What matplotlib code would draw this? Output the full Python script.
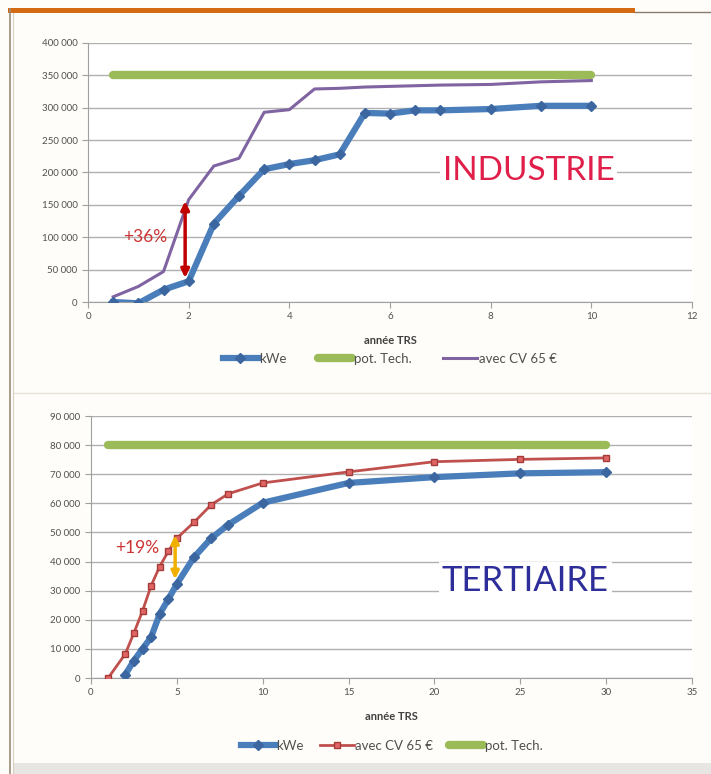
import matplotlib.pyplot as plt
from matplotlib.lines import Line2D
from matplotlib.patches import Rectangle
from matplotlib.ticker import FuncFormatter

# INDUSTRIE
ind_years = [0.5, 1, 1.5, 2, 2.5, 3, 3.5, 4, 4.5, 5, 5.5, 6, 6.5, 7, 8, 9, 10]
ind_kwe = [0, -2000, 19000, 32000, 121000, 164000, 205000, 213000, 219000,
           228000, 292000, 291000, 296000, 296000, 298000, 303000, 303000]
ind_cv = [8000, 24000, 47000, 158000, 210000, 222000, 293000, 297000, 329000,
          330000, 332000, 333000, 334000, 335000, 336000, 340000, 342000]
ind_pot = [350000] * len(ind_years)

# TERTIAIRE
ter_years_cv = [1, 2, 2.5, 3, 3.5, 4, 4.5, 5, 6, 7, 8, 10, 15, 20, 25, 30]
ter_cv = [0, 8300, 15500, 23000, 31700, 38300, 43500, 48000, 53500, 59500,
          63300, 67000, 70800, 74300, 75100, 75600]
ter_years_kwe = [2, 2.5, 3, 3.5, 4, 4.5, 5, 6, 7, 8, 10, 15, 20, 25, 30]
ter_kwe = [1200, 6000, 10000, 14000, 22000, 27000, 32300, 41500, 48000,
           52700, 60200, 67000, 69000, 70300, 70700]
ter_years_pot = [1, 30]
ter_pot = [80000, 80000]

BLUE = "#4a7ebb"
BLUE_DK = "#3b66a0"
GREEN = "#9bbb59"
PURPLE = "#8064a2"
RED = "#c0504d"
TXT = "#505050"

plt.rcParams["font.family"] = ["Lato", "DejaVu Sans"]

fig = plt.figure(figsize=(7.11, 7.74), dpi=100)
fig.patch.set_facecolor("#fffdf9")

W, H = 711, 774


def box(l, t, r, b):
    return [l / W, 1 - b / H, (r - l) / W, (b - t) / H]


def thousands(v, pos):
    return f"{int(v):,}".replace(",", " ")


def style(ax, xmax, xstep, ymax, ystep):
    ax.set_facecolor("white")
    ax.set_xlim(0, xmax)
    ax.set_ylim(0, ymax)
    ax.set_xticks(range(0, xmax + 1, xstep))
    ax.set_yticks(range(0, ymax + 1, ystep))
    ax.yaxis.set_major_formatter(FuncFormatter(thousands))
    ax.grid(axis="y", color="#b0b0b0", lw=1)
    ax.set_axisbelow(True)
    for s in ["top", "right"]:
        ax.spines[s].set_visible(False)
    for s in ["left", "bottom"]:
        ax.spines[s].set_color("#a0a0a0")
    ax.tick_params(labelsize=7, colors="#a0a0a0", labelcolor=TXT,
                   length=4, direction="out")
    ax.set_xlabel("année TRS", fontsize=8, fontweight="bold", color="#404040",
                  labelpad=10)


# top chart
ax1 = fig.add_axes(box(88, 43, 692, 302))
style(ax1, 12, 2, 400000, 50000)
ax1.plot(ind_years, ind_kwe, color=BLUE, lw=4.5, marker="D", ms=5,
         mfc=BLUE_DK, mec=BLUE_DK, label="kWe", zorder=4)
ax1.plot(ind_years, ind_pot, color=GREEN, lw=6, solid_capstyle="round",
         label="pot. Tech.", zorder=3)
ax1.plot(ind_years, ind_cv, color=PURPLE, lw=2.2, label="avec CV 65 €",
         zorder=3)
ax1.annotate("", xy=(1.93, 160000), xytext=(1.93, 33000),
             arrowprops=dict(arrowstyle="<|-|>", color="#c00000", lw=2.5,
                             mutation_scale=12), zorder=5)
ax1.text(1.13, 100000, "+36%", color="#cc3333", fontsize=12.5,
         ha="center", va="center", zorder=6)
ax1.text(8.75, 203000, "INDUSTRIE", color="#e0204a", fontsize=24,
         ha="center", va="center", zorder=6,
         bbox=dict(fc="white", ec="none", pad=2))
ax1.legend(loc="upper center", bbox_to_anchor=(0.5, -0.15), ncol=3,
           frameon=False, fontsize=9.5, handlelength=2.6, columnspacing=2.4,
           labelcolor=TXT, handletextpad=0.1)

# bottom chart
ax2 = fig.add_axes(box(91, 416, 692, 678))
style(ax2, 35, 5, 90000, 10000)
ax2.plot(ter_years_kwe, ter_kwe, color=BLUE, lw=4.5, marker="D", ms=5,
         mfc=BLUE_DK, mec=BLUE_DK, label="kWe", zorder=4)
ax2.plot(ter_years_cv, ter_cv, color=RED, lw=2, marker="s", ms=5,
         mfc="#e06666", mec="#a33b38", label="avec CV 65 €", zorder=4)
ax2.plot(ter_years_pot, ter_pot, color=GREEN, lw=6, solid_capstyle="round",
         label="pot. Tech.", zorder=3)
ax2.annotate("", xy=(4.9, 50000), xytext=(4.9, 33000),
             arrowprops=dict(arrowstyle="<|-|>", color="#f0b000", lw=2.5,
                             mutation_scale=11), zorder=5)
ax2.text(2.7, 44500, "+19%", color="#cc3333", fontsize=12.5,
         ha="center", va="center", zorder=6)
ax2.text(25.3, 33300, "TERTIAIRE", color="#2e2e9a", fontsize=25,
         ha="center", va="center", zorder=6,
         bbox=dict(fc="white", ec="none", pad=2))
ax2.legend(loc="upper center", bbox_to_anchor=(0.5, -0.19), ncol=3,
           frameon=False, fontsize=9.5, handlelength=2.6, columnspacing=1.2,
           labelcolor=TXT, handletextpad=0.1)

# slide frame
fig.add_artist(Rectangle((8 / W, 1 - 13 / H), 627 / W, 5 / H,
                         transform=fig.transFigure, color="#d46a12", lw=0))
fig.add_artist(Line2D([635 / W, 1], [1 - 12 / H, 1 - 12 / H],
                      transform=fig.transFigure, color="#8c7b6b", lw=1))
fig.add_artist(Line2D([10 / W, 10 / W], [0, 1 - 9 / H],
                      transform=fig.transFigure, color="#9c8a78", lw=1.2))
fig.add_artist(Line2D([13 / W, 13 / W], [0, 1 - 13 / H],
                      transform=fig.transFigure, color="#d8cfc4", lw=0.8))
fig.add_artist(Line2D([14 / W, 1], [1 - 393 / H, 1 - 393 / H],
                      transform=fig.transFigure, color="#e6e2dc", lw=1))
fig.add_artist(Rectangle((14 / W, 0), 1, 11 / H,
                         transform=fig.transFigure, color="#e8e6e3", lw=0))

fig.savefig("out.png", dpi=100, facecolor=fig.get_facecolor())
